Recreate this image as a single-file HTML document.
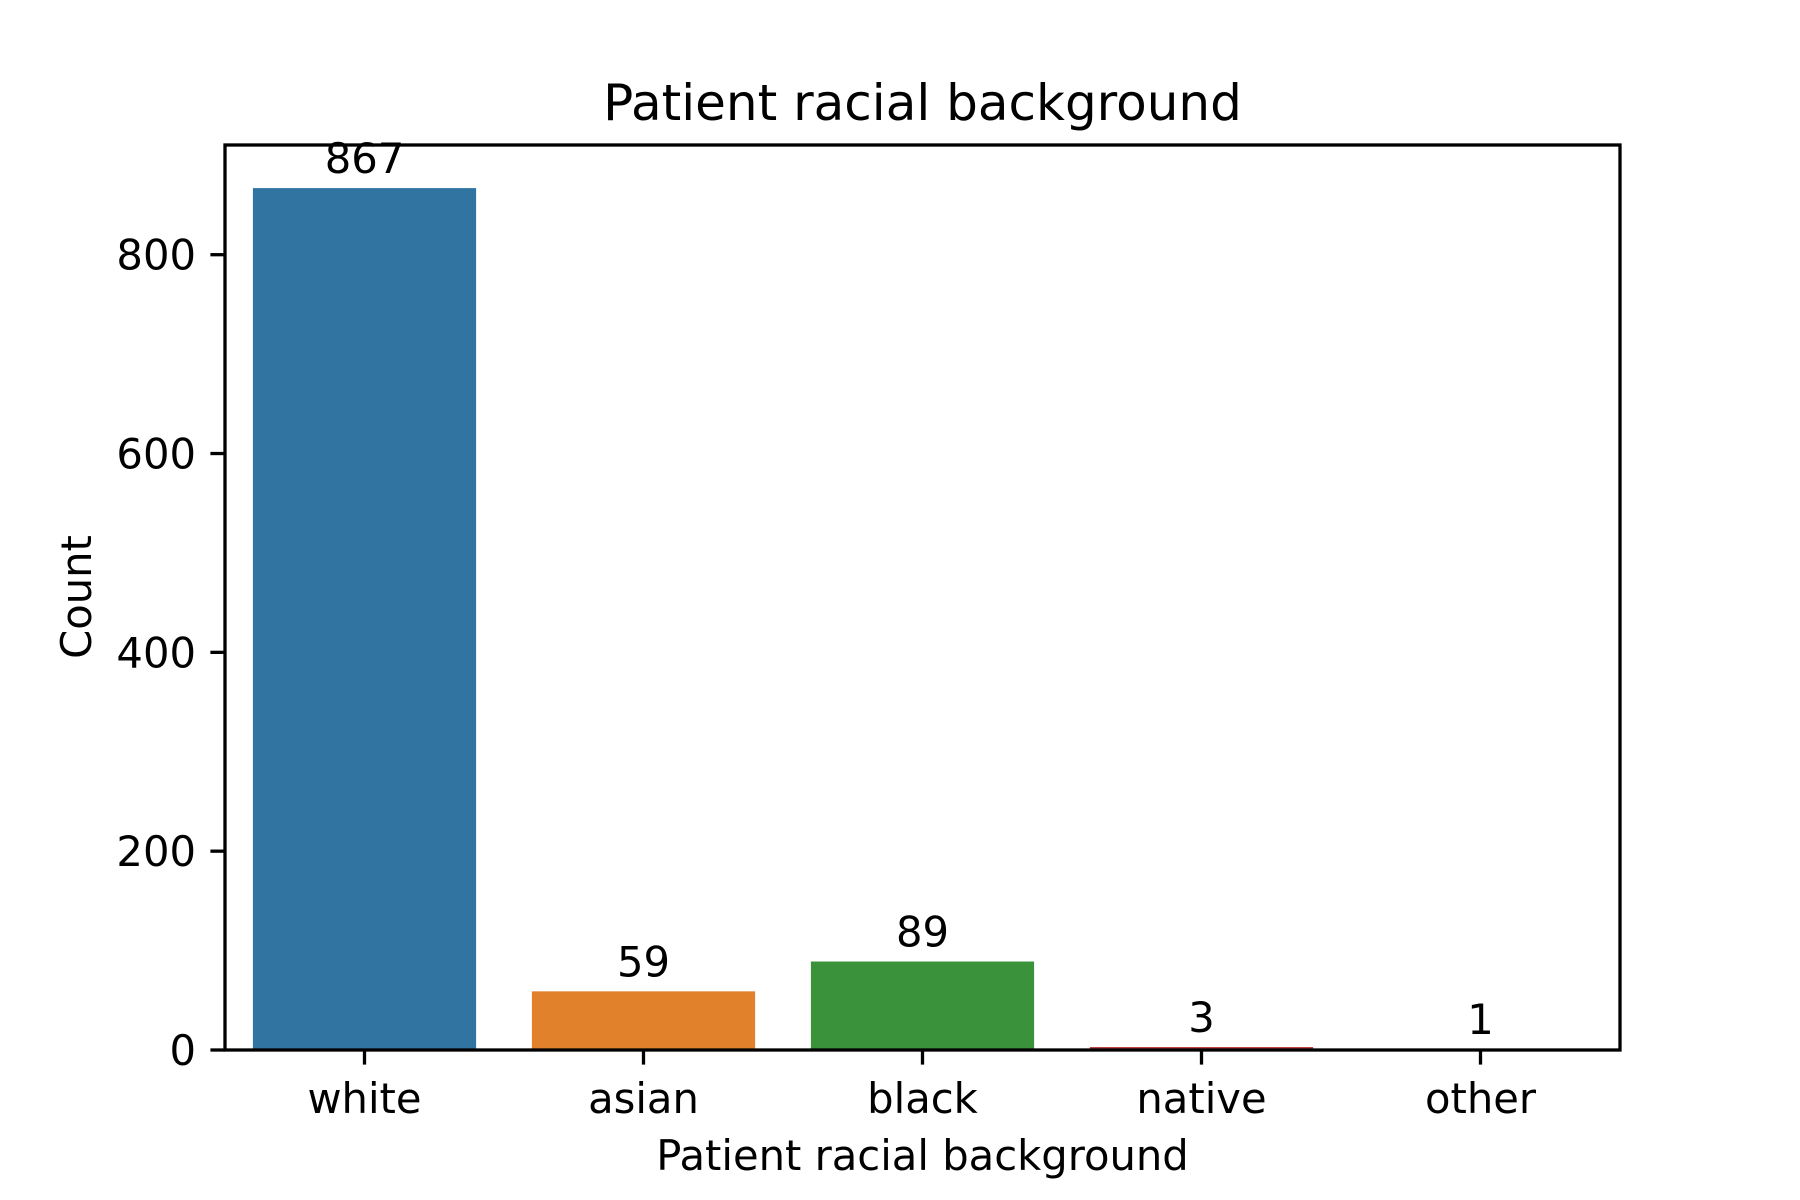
<!DOCTYPE html>
<html><head><meta charset="utf-8"><style>
body{margin:0;background:#fff}
svg{display:block;font-family:"DejaVu Sans","Liberation Sans",sans-serif}
</style></head><body>
<svg id="chart" width="1800" height="1200" viewBox="0 0 1800 1200">
<rect width="1800" height="1200" fill="#fff"/>
<g id="bars"></g>
<g id="ticks"></g>
<rect x="225" y="145" width="1395" height="905" fill="none" stroke="#000" stroke-width="3.3"/>
<text x="922.5" y="120" font-size="50" text-anchor="middle">Patient racial background</text>
<text x="922.5" y="1170" font-size="41.7" text-anchor="middle">Patient racial background</text>
<text transform="translate(91,597) rotate(-90)" font-size="41.7" text-anchor="middle">Count</text>
</svg>
<script>
const categories = ["white","asian","black","native","other"];
const counts = [867,59,89,3,1];
const colors = ["#3274a1","#e1812c","#3a923a","#c03d3e","#9372b2"];
const yTicks = [0,200,400,600,800];

const L=225,R=1620,T=145,B=1050;
const yMax=Math.max(...counts)*1.05;
const y=v=>B-(v/yMax)*(B-T);
const slot=(R-L)/categories.length;
const xc=i=>L+slot*(i+0.5);
const NS="http://www.w3.org/2000/svg";
const bars=document.getElementById('bars'), ticks=document.getElementById('ticks');
function mk(tag,attrs,parent){const e=document.createElementNS(NS,tag);for(const k in attrs)e.setAttribute(k,attrs[k]);parent.appendChild(e);return e;}
counts.forEach((v,i)=>{
  const w=slot*0.8;
  const r=mk('rect',{x:xc(i)-w/2,y:y(v),width:w,height:B-y(v),fill:colors[i]},bars);
  
  
  const t=mk('text',{x:xc(i),y:y(v)-15,'font-size':41.7,'text-anchor':'middle'},bars);
  t.textContent=v;
  
  
  const tk=mk('line',{x1:xc(i),x2:xc(i),y1:B,y2:B+14.6,stroke:'#000','stroke-width':3.3},ticks);
  
  
  const tl=mk('text',{x:xc(i),y:B+63,'font-size':41.7,'text-anchor':'middle'},ticks);
  tl.textContent=categories[i];
  
  
});
yTicks.forEach(v=>{
  const tk=mk('line',{x1:L-14.6,x2:L,y1:y(v),y2:y(v),stroke:'#000','stroke-width':3.3},ticks);
  
  
  const tl=mk('text',{x:L-29,y:y(v)+15,'font-size':41.7,'text-anchor':'end'},ticks);
  tl.textContent=v;
  
  
});
</script>
</body></html>
